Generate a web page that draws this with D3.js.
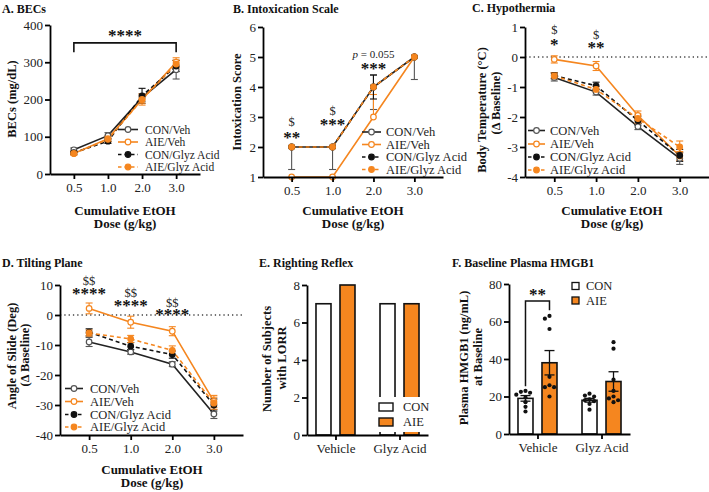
<!DOCTYPE html>
<html>
<head>
<meta charset="utf-8">
<script src="https://cdn.jsdelivr.net/npm/d3@7"></script>
<style>
body { margin: 0; background: #fff; }
svg { display: block; font-family: "Liberation Serif", "Times New Roman", serif; }
.axis path, .axis line { stroke: #000; stroke-width: 1.8px; }
.axis text { font-size: 13px; fill: #222; font-family: "Liberation Serif", serif; }
</style>
</head>
<body>
<svg id="fig" width="709" height="492"></svg>
<script>
var ORANGE = "#f5861f";

// shared categories
var doses = ["0.5", "1.0", "2.0", "3.0"];
var groupNames = ["CON/Veh", "AIE/Veh", "CON/Glyz Acid", "AIE/Glyz Acid"];

// A. BECs (mg/dL), one row per group
var becMean = [[65, 103, 205, 280], [55, 95, 200, 300], [57, 88, 210, 290], [55, 93, 200, 295]];
var becSem  = [[5, 8, 10, 25], [4, 8, 15, 12], [4, 6, 20, 15], [4, 6, 10, 10]];

// B. Intoxication score
var intoxMean  = [[2, 2, 4, 5], [1, 1, 3, 5], [2, 2, 4, 5], [2, 2, 4, 5]];
var intoxErrLo = [[0.75, 0.75, 0.75, 0.75], [0, 0, 0, 0], [0, 0, 0.4, 0], [0, 0, 0, 0]];
var intoxErrHi = [[0, 0, 0.4, 0], [0, 0, 0.75, 0], [0, 0, 0.4, 0], [0, 0, 0, 0]];
var intoxNotes = [
  {i: 0, v: 2.85, t: "$"}, {i: 0, v: 2.37, t: "**", star: true},
  {i: 1, v: 3.2, t: "$"}, {i: 1, v: 2.82, t: "***", star: true},
  {i: 2, v: 5.1, t: "p", p: true}, {i: 2, v: 4.7, t: "***", star: true}
];

// C. Hypothermia, body temperature change (°C)
var tempMean = [[-0.68, -1.17, -2.32, -3.38], [-0.08, -0.3, -1.95, -3.3], [-0.62, -0.96, -2.12, -3.28], [-0.63, -1.08, -2.05, -3.0]];
var tempSem  = [[0.12, 0.1, 0.1, 0.2], [0.12, 0.15, 0.15, 0.15], [0.1, 0.12, 0.15, 0.2], [0.1, 0.1, 0.15, 0.2]];
var tempNotes = [
  {i: 0, v: 0.9, t: "$"}, {i: 0, v: 0.5, t: "*", star: true},
  {i: 1, v: 0.73, t: "$"}, {i: 1, v: 0.37, t: "**", star: true}
];

// D. Tilting plane, angle of slide (deg)
var tiltMean = [[-9, -12.3, -16.4, -33], [2.2, -2.4, -5.4, -28.8], [-5.8, -10.4, -13.2, -30], [-6, -8, -11.8, -29.4]];
var tiltSem  = [[1.5, 0.8, 0.8, 1.5], [1.8, 2, 1.5, 2], [1.2, 1.2, 1.2, 2], [1, 1.2, 1.5, 2]];
var tiltNotes = [
  {i: 0, v: 11.3, t: "$$"}, {i: 0, v: 7.7, t: "****", star: true},
  {i: 1, v: 7.3, t: "$$"}, {i: 1, v: 4, t: "****", star: true},
  {i: 2, v: 4, t: "$$"}, {i: 2, v: 0.7, t: "****", star: true}
];

// E. Righting reflex
var treatGroups = ["Vehicle", "Glyz Acid"];
var conds = ["CON", "AIE"];
var lorrCount = [[7, 8], [7, 7]];

// F. Baseline plasma HMGB1 (ng/mL)
var hmgbMean = [[19, 38], [18, 28]];
var hmgbSem  = [[1.5, 6.5], [1, 5.2]];
var hmgbPoints = [
  [[23, 22.5, 22, 21, 19.5, 17, 14.5, 12], [63, 61.5, 56, 30.5, 26, 25, 25, 20]],
  [[21.5, 20.5, 20, 18.5, 18, 17.5, 16, 13], [49, 45.5, 29, 23, 20, 19, 18, 17]]
];
var hmgbBracket = {lo1: 25.5, top: 71, lo2: 66, t: "**", tv: 75.5};

var styles = [
  {color: "#222", dash: null, fill: "#fff", mk: "#555"},
  {color: ORANGE, dash: null, fill: "#fff", mk: ORANGE},
  {color: "#111", dash: "4,3", fill: "#111", mk: "#111"},
  {color: ORANGE, dash: "4,3", fill: ORANGE, mk: ORANGE}
];

var svg = d3.select("#fig");

function title(x, y, s) {
  svg.append("text").attr("x", x).attr("y", y)
    .attr("font-size", 12).attr("font-weight", "bold").attr("fill", "#111").text(s);
}

function yTitle(lines) {
  lines.forEach(function(l) {
    svg.append("text")
      .attr("transform", "translate(" + l.x + "," + l.y + ") rotate(-90)")
      .attr("text-anchor", "middle").attr("dominant-baseline", "central")
      .attr("font-size", 12.5).attr("font-weight", "bold").attr("fill", "#111")
      .text(l.t);
  });
}

function xTitle(x, y) {
  ["Cumulative EtOH", "Dose (g/kg)"].forEach(function(s, k) {
    svg.append("text").attr("x", x).attr("y", y + k * 13)
      .attr("text-anchor", "middle").attr("font-size", 13).attr("font-weight", "bold")
      .attr("fill", "#111").text(s);
  });
}

function stars(g, x, yc, s) {
  g.append("text").attr("x", x).attr("y", yc + 7.5)
    .attr("text-anchor", "middle").attr("font-size", 17).attr("font-weight", "bold")
    .attr("fill", "#111").text(s);
}

function note(g, x, yc, n) {
  if (n.star) { stars(g, x, yc, n.t); return; }
  var t = g.append("text").attr("x", x).attr("y", yc)
    .attr("text-anchor", "middle").attr("dominant-baseline", "central")
    .attr("font-size", n.p ? 11 : 12.5).attr("fill", "#222");
  if (n.p) {
    t.append("tspan").attr("font-style", "italic").text("p");
    t.append("tspan").text(" = 0.055");
  } else {
    t.text(n.t);
  }
}

function linePanel(o) {
  var g = svg.append("g");
  var x = d3.scaleLinear().domain([-0.7, 3.7]).range([o.left, o.right]);
  var y = d3.scaleLinear().domain(o.yDomain).range([o.bottom, o.top]);

  if (o.zero) {
    g.append("line").attr("x1", o.left).attr("x2", o.right)
      .attr("y1", y(0)).attr("y2", y(0))
      .attr("stroke", "#444").attr("stroke-width", 1.3).attr("stroke-dasharray", "1.3,3");
  }

  var line = d3.line().x(function(d, i) { return x(i); }).y(function(d) { return y(d); });

  o.means.forEach(function(m, s) {
    g.append("path").attr("d", line(m)).attr("fill", "none")
      .attr("stroke", styles[s].color).attr("stroke-width", 1.6)
      .attr("stroke-dasharray", styles[s].dash);
  });

  o.means.forEach(function(m, s) {
    m.forEach(function(v, i) {
      var lo = o.errLo[s][i], hi = o.errHi[s][i];
      if (!lo && !hi) return;
      var eg = g.append("g").attr("stroke", styles[s].mk).attr("stroke-width", 1.1);
      eg.append("line").attr("x1", x(i)).attr("x2", x(i)).attr("y1", y(v - lo)).attr("y2", y(v + hi));
      if (lo) eg.append("line").attr("x1", x(i) - 3.5).attr("x2", x(i) + 3.5).attr("y1", y(v - lo)).attr("y2", y(v - lo));
      if (hi) eg.append("line").attr("x1", x(i) - 3.5).attr("x2", x(i) + 3.5).attr("y1", y(v + hi)).attr("y2", y(v + hi));
    });
  });

  o.means.forEach(function(m, s) {
    g.selectAll(null).data(m).enter().append("circle")
      .attr("cx", function(d, i) { return x(i); })
      .attr("cy", function(d) { return y(d); })
      .attr("r", 2.8).attr("fill", styles[s].fill)
      .attr("stroke", styles[s].mk).attr("stroke-width", 1.2);
  });

  g.append("g").attr("class", "axis").attr("transform", "translate(0," + o.bottom + ")")
    .call(d3.axisBottom(x).tickValues([0, 1, 2, 3])
      .tickFormat(function(i) { return doses[i]; })
      .tickSize(5).tickSizeOuter(0).tickPadding(4));
  g.append("g").attr("class", "axis").attr("transform", "translate(" + o.left + ",0)")
    .call(d3.axisLeft(y).tickValues(o.yTicks)
      .tickFormat(function(d) { return String(d); })
      .tickSize(5).tickSizeOuter(0).tickPadding(2));

  (o.notes || []).forEach(function(n) { note(g, x(n.i), y(n.v), n); });

  // legend
  var L = o.legend;
  groupNames.forEach(function(name, s) {
    var ly = L.rows[s];
    g.append("line").attr("x1", L.x1).attr("x2", L.x2).attr("y1", ly).attr("y2", ly)
      .attr("stroke", styles[s].color).attr("stroke-width", 1.6)
      .attr("stroke-dasharray", styles[s].dash ? "3.5,3" : null);
    g.append("circle").attr("cx", (L.x1 + L.x2) / 2).attr("cy", ly).attr("r", 2.8)
      .attr("fill", styles[s].fill).attr("stroke", styles[s].mk).attr("stroke-width", 1.2);
    g.append("text").attr("x", L.tx).attr("y", ly).attr("dominant-baseline", "central")
      .attr("font-size", L.fs).attr("fill", "#222").text(name);
  });

  return {g: g, x: x, y: y};
}

// ---- A
title(2, 13, "A. BECs");
var pA = linePanel({
  left: 50, right: 200, top: 25, bottom: 174, yDomain: [0, 400], yTicks: [0, 100, 200, 300, 400],
  means: becMean, errLo: becSem, errHi: becSem,
  legend: {x1: 118, x2: 138, tx: 145, rows: [129.5, 142, 154.5, 167], fs: 11.5}
});
pA.g.append("path")
  .attr("d", "M" + pA.x(0) + "," + pA.y(327) + "V" + pA.y(352) + "H" + pA.x(3) + "V" + pA.y(327))
  .attr("fill", "none").attr("stroke", "#111").attr("stroke-width", 1.6);
stars(pA.g, (pA.x(0) + pA.x(3)) / 2, pA.y(378), "****");
yTitle([{x: 12, y: 99, t: "BECs (mg/dL)"}]);
xTitle(125, 215);

// ---- B
title(233, 13, "B. Intoxication  Scale");
linePanel({
  left: 263, right: 443, top: 27, bottom: 177, yDomain: [1, 6], yTicks: [1, 2, 3, 4, 5, 6],
  means: intoxMean, errLo: intoxErrLo, errHi: intoxErrHi, notes: intoxNotes,
  legend: {x1: 362, x2: 381, tx: 386, rows: [132, 144.5, 157, 169.5], fs: 12.5}
});
yTitle([{x: 237, y: 102, t: "Intoxication Score"}]);
xTitle(353, 215);

// ---- C
title(472, 12, "C. Hypothermia");
linePanel({
  left: 525, right: 709, top: 27, bottom: 177, yDomain: [-4, 1], yTicks: [-4, -3, -2, -1, 0, 1],
  means: tempMean, errLo: tempSem, errHi: tempSem, notes: tempNotes, zero: true,
  legend: {x1: 528, x2: 545, tx: 550, rows: [130.5, 144, 157, 170], fs: 12.5}
});
yTitle([{x: 482, y: 110, t: "Body Temperature (°C)"}, {x: 496, y: 103, t: "(Δ Baseline)"}]);
xTitle(612, 215);

// ---- D
title(2, 267, "D. Tilting  Plane");
linePanel({
  left: 60, right: 243, top: 285, bottom: 435, yDomain: [-40, 10], yTicks: [-40, -30, -20, -10, 0, 10],
  means: tiltMean, errLo: tiltSem, errHi: tiltSem, notes: tiltNotes, zero: true,
  legend: {x1: 65, x2: 83, tx: 90, rows: [388.5, 401.5, 414.5, 427], fs: 12.5}
});
yTitle([{x: 12, y: 356, t: "Angle of Slide (Deg)"}, {x: 25, y: 355, t: "(Δ Baseline)"}]);
xTitle(152, 474);

// ---- bar panels
var sub = d3.scaleBand().domain(conds).range([-24, 24]).paddingInner(0.375).paddingOuter(0.1875);
var condFill = {CON: "#fff", AIE: ORANGE};

function barAxes(g, x, y, o) {
  g.append("g").attr("class", "axis").attr("transform", "translate(0," + o.bottom + ")")
    .call(d3.axisBottom(x).tickSize(5).tickSizeOuter(0).tickPadding(4));
  g.append("g").attr("class", "axis").attr("transform", "translate(" + o.left + ",0)")
    .call(d3.axisLeft(y).tickValues(o.yTicks).tickSize(5).tickSizeOuter(0).tickPadding(2));
}

function bars(g, x, y, vals) {
  treatGroups.forEach(function(tg, gi) {
    g.selectAll(null).data(conds).enter().append("rect")
      .attr("x", function(c) { return x(tg) + sub(c); })
      .attr("width", sub.bandwidth())
      .attr("y", function(c, ci) { return y(vals[gi][ci]); })
      .attr("height", function(c, ci) { return y(0) - y(vals[gi][ci]); })
      .attr("fill", function(c) { return condFill[c]; })
      .attr("stroke", "#111").attr("stroke-width", 1.6);
  });
}

// ---- E
title(259, 267, "E. Righting  Reflex");
(function() {
  var o = {left: 307, right: 428, top: 285, bottom: 435, yTicks: [0, 2, 4, 6, 8]};
  var g = svg.append("g");
  var x = d3.scalePoint().domain(treatGroups).range([o.left, o.right]).padding(0.445);
  var y = d3.scaleLinear().domain([0, 8]).range([o.bottom, o.top]);
  bars(g, x, y, lorrCount);
  g.append("rect").attr("x", 372).attr("y", 397).attr("width", 58).attr("height", 35).attr("fill", "#fff");
  conds.forEach(function(c, k) {
    var cy = 407 + k * 15;
    g.append("rect").attr("x", 379).attr("y", cy - 4).attr("width", 14).attr("height", 8)
      .attr("fill", condFill[c]).attr("stroke", "#111").attr("stroke-width", 1.4);
    g.append("text").attr("x", 403).attr("y", cy).attr("dominant-baseline", "central")
      .attr("font-size", 12.5).attr("fill", "#222").text(c);
  });
  barAxes(g, x, y, o);
})();
yTitle([{x: 267, y: 359, t: "Number of Subjects"}, {x: 282, y: 358, t: "with LORR"}]);

// ---- F
title(452, 267, "F. Baseline Plasma  HMGB1");
(function() {
  var o = {left: 509, right: 630, top: 284, bottom: 434, yTicks: [0, 20, 40, 60, 80]};
  var g = svg.append("g");
  var x = d3.scalePoint().domain(treatGroups).range([o.left, o.right]).padding(0.445);
  var y = d3.scaleLinear().domain([0, 80]).range([o.bottom, o.top]);
  bars(g, x, y, hmgbMean);

  treatGroups.forEach(function(tg, gi) {
    conds.forEach(function(c, ci) {
      var cx = x(tg) + sub(c) + sub.bandwidth() / 2;
      var m = hmgbMean[gi][ci], e = hmgbSem[gi][ci];
      var eg = g.append("g").attr("stroke", "#111").attr("stroke-width", 1.3);
      eg.append("line").attr("x1", cx).attr("x2", cx).attr("y1", y(m - e)).attr("y2", y(m + e));
      eg.append("line").attr("x1", cx - 5).attr("x2", cx + 5).attr("y1", y(m + e)).attr("y2", y(m + e));
      eg.append("line").attr("x1", cx - 5).attr("x2", cx + 5).attr("y1", y(m - e)).attr("y2", y(m - e));

      // simple swarm so overlapping dots spread sideways
      var r = 2.1, placed = [];
      hmgbPoints[gi][ci].slice().sort(d3.descending).forEach(function(v) {
        var py = y(v);
        var offs = [0, -1, 1, -2, 2, -3, 3];
        for (var k = 0; k < offs.length; k++) {
          var ox = offs[k] * 4.6;
          var ok = placed.every(function(p) { return Math.hypot(p.ox - ox, p.py - py) >= 4.6; });
          if (ok) { placed.push({ox: ox, py: py}); break; }
        }
      });
      g.selectAll(null).data(placed).enter().append("circle")
        .attr("cx", function(p) { return cx + p.ox; })
        .attr("cy", function(p) { return p.py; })
        .attr("r", r).attr("fill", "#111");
    });
  });

  var bx1 = x("Vehicle") + sub("CON") + sub.bandwidth() / 2;
  var bx2 = x("Vehicle") + sub("AIE") + sub.bandwidth() / 2;
  g.append("path")
    .attr("d", "M" + bx1 + "," + y(hmgbBracket.lo1) + "V" + y(hmgbBracket.top) + "H" + bx2 + "V" + y(hmgbBracket.lo2))
    .attr("fill", "none").attr("stroke", "#111").attr("stroke-width", 1.5);
  stars(g, (bx1 + bx2) / 2, y(hmgbBracket.tv), hmgbBracket.t);

  conds.forEach(function(c, k) {
    var cy = 286 + k * 14.5;
    g.append("rect").attr("x", 572).attr("y", cy - 3.5).attr("width", 7).attr("height", 7)
      .attr("fill", condFill[c]).attr("stroke", "#111").attr("stroke-width", 1.3);
    g.append("text").attr("x", 586).attr("y", cy).attr("dominant-baseline", "central")
      .attr("font-size", 12.5).attr("fill", "#222").text(c);
  });
  barAxes(g, x, y, o);
})();
yTitle([{x: 464, y: 358, t: "Plasma HMGB1 (ng/mL)"}, {x: 478, y: 357, t: "at Baseline"}]);
</script>
</body>
</html>
